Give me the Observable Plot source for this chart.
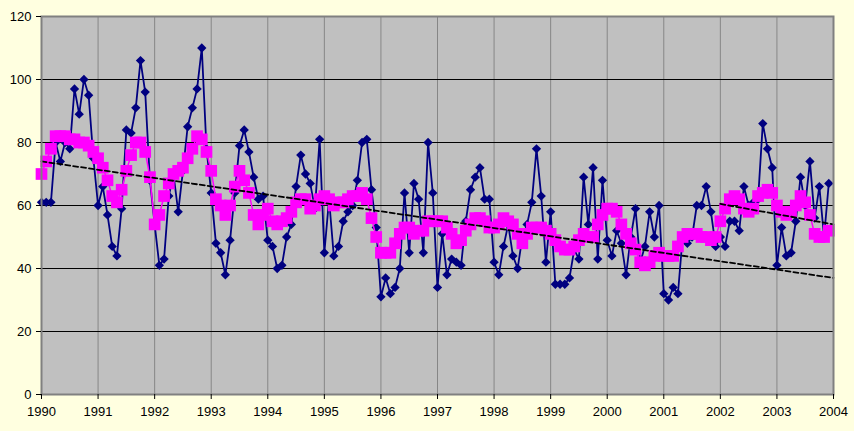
<!DOCTYPE html>
<html><head><meta charset="utf-8">
<script src="https://cdn.jsdelivr.net/npm/d3@7"></script>
<script src="https://cdn.jsdelivr.net/npm/@observablehq/plot@0.6"></script>
<style>
html,body{margin:0;padding:0;background:#FFFFE0;}
#chart svg{display:block;}
</style>
</head><body><div id="chart"></div>
<script>
const startYear = 1990;
// monthly observed values, Jan 1990 .. Dec 2003 (one row per year)
const observed = [
  61, 61, 61, 80, 74, 80, 78, 97, 89, 100, 95, 75,
  60, 66, 57, 47, 44, 59, 84, 83, 91, 106, 96, 68,
  54, 41, 43, 63, 70, 58, 71, 85, 91, 97, 110, 78,
  64, 48, 45, 38, 49, 64, 79, 84, 77, 69, 62, 63,
  49, 47, 40, 41, 50, 54, 66, 76, 70, 67, 59, 81,
  45, 62, 44, 47, 55, 58, 60, 68, 80, 81, 65, 53,
  31, 37, 32, 34, 40, 64, 45, 67, 62, 45, 80, 64,
  34, 51, 38, 43, 42, 41, 55, 65, 69, 72, 62, 62,
  42, 38, 47, 54, 44, 40, 50, 54, 61, 78, 63, 42,
  58, 35, 35, 35, 37, 46, 43, 69, 54, 72, 43, 68,
  49, 44, 52, 48, 38, 50, 59, 42, 47, 58, 50, 60,
  32, 30, 34, 32, 50, 48, 50, 60, 60, 66, 58, 47,
  50, 47, 55, 55, 52, 66, 60, 61, 62, 86, 78, 72,
  41, 53, 44, 45, 55, 69, 60, 74, 56, 66, 50, 67
];
// smoothed series (magenta squares)
const smoothed = [
  70, 74, 78, 82, 82, 82, 81, 81, 80, 80, 79, 77,
  75, 72, 68, 63, 61, 65, 71, 76, 80, 80, 77, 69,
  54, 57, 63, 67, 70, 71, 72, 75, 78, 82, 81, 77,
  71, 62, 60, 57, 60, 66, 71, 68, 64, 57, 54, 57,
  59, 55, 54, 55, 56, 58, 61, 62, 62, 59, 60, 62,
  63, 62, 60, 61, 61, 62, 63, 63, 64, 62, 56, 50,
  45, 45, 45, 48, 51, 53, 53, 51, 52, 52, 55, 55,
  55, 55, 53, 51, 48, 49, 52, 54, 56, 56, 55, 53,
  53, 54, 56, 55, 54, 51, 48, 51, 53, 53, 53, 52,
  51, 49, 47, 46, 46, 47, 49, 51, 50, 50, 54, 57,
  59, 59, 58, 54, 51, 48, 46, 42, 41, 42, 44, 45,
  44, 44, 44, 47, 50, 51, 51, 51, 50, 50, 49, 50,
  55, 59, 62, 63, 62, 59, 58, 59, 63, 64, 65, 64,
  60, 58, 57, 58, 60, 63, 61, 57, 51, 50, 50, 52
];
// trend lines (dashed)
const trendYears = [1990, 2004];
const trendValues = [74, 37];
const recentTrendYears = [2002, 2004];
const recentTrendValues = [60.5, 54];
// axis ticks
const yTicks = [0, 20, 40, 60, 80, 100, 120];
const xTicks = [1990,1991,1992,1993,1994,1995,1996,1997,1998,1999,2000,2001,2002,2003,2004];

const obsRows = observed.map((v, i) => ({t: startYear + i / 12, v}));
const smoothRows = smoothed.map((v, i) => ({t: startYear + i / 12, v}));
const trendRows = trendYears.map((t, i) => ({t, v: trendValues[i]}));
const recentRows = recentTrendYears.map((t, i) => ({t, v: recentTrendValues[i]}));

const chart = Plot.plot({
  width: 854,
  height: 431,
  marginLeft: 41,
  marginRight: 21,
  marginTop: 16,
  marginBottom: 37,
  style: {background: "#FFFFE0", fontFamily: "'Liberation Sans', Arial, sans-serif", fontSize: "13px", color: "#000"},
  x: {domain: [1990, 2004], label: null},
  y: {domain: [0, 120], label: null},
  marks: [
    Plot.frame({fill: "#C0C0C0", stroke: null}),
    Plot.gridY(yTicks, {stroke: "#000", strokeOpacity: 1, strokeWidth: 1}),
    Plot.gridX(xTicks, {stroke: "#000", strokeOpacity: 0.3, strokeWidth: 1}),
    Plot.line(obsRows, {x: "t", y: "v", stroke: "#000080", strokeWidth: 1.8}),
    Plot.dot(obsRows, {x: "t", y: "v", symbol: "diamond2", r: 4.2, fill: "#000080", stroke: null}),
    Plot.line(smoothRows, {x: "t", y: "v", stroke: "#FF00FF", strokeWidth: 1.5}),
    Plot.dot(smoothRows, {x: "t", y: "v", symbol: "square", r: 6.6, fill: "#FF00FF", stroke: null}),
    Plot.line(trendRows, {x: "t", y: "v", stroke: "#000", strokeWidth: 1.8, strokeDasharray: "5,3"}),
    Plot.line(recentRows, {x: "t", y: "v", stroke: "#000", strokeWidth: 1.8, strokeDasharray: "5,3"}),
    Plot.frame({stroke: "#808080", strokeWidth: 2}),
    Plot.axisY(yTicks, {tickSize: 5, tickPadding: 5, fontSize: 13, label: null, tickFormat: d => String(d)}),
    Plot.axisX(xTicks, {tickSize: 5, tickPadding: 7, fontSize: 13, label: null, tickFormat: d => String(d)})
  ]
});
document.getElementById("chart").appendChild(chart);
</script>
</body></html>
